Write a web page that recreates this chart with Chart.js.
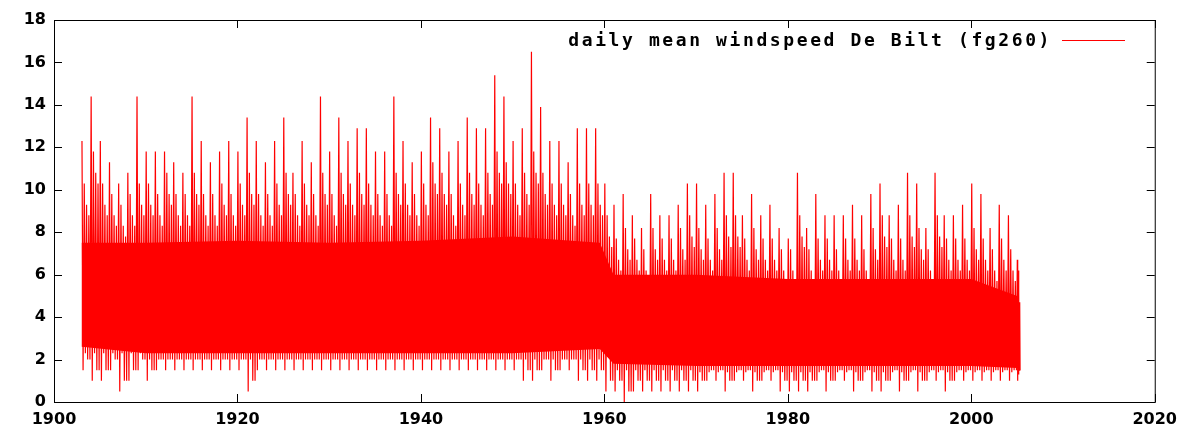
<!DOCTYPE html>
<html>
<head>
<meta charset="utf-8">
<script src="https://cdn.jsdelivr.net/npm/chart.js@4"></script>
<style>
  body { margin: 0; background: #fff; }
  #wrap { width: 1185px; height: 437px; }
</style>
</head>
<body>
<div id="wrap"><canvas id="grafico" width="1185" height="437"></canvas></div>
<script>
// años con datos diarios (De Bilt, fg260)
const anios = [];
for (let a = 1903; a <= 2005; a++) anios.push(a);

// pico máximo de cada año (m/s)
const picos = [12.3,14.4,12.3,11.3,10.3,10.8,14.4,11.8,11.8,11.8,11.3,10.8,14.4,12.3,11.3,11.8,12.3,11.8,13.4,12.3,
  11.3,12.3,13.4,10.8,12.3,11.3,14.4,11.8,13.4,12.3,12.9,12.9,11.8,11.8,14.4,12.3,11.3,11.8,13.4,12.9,
  11.8,12.3,13.4,12.9,12.9,15.4,14.4,12.3,12.9,16.5,13.9,12.3,12.3,11.3,12.9,12.9,12.9,10.3,9.3,9.8,
  8.8,8.2,9.8,8.8,8.8,9.3,10.3,10.3,9.3,9.8,10.8,10.8,8.8,9.8,8.8,9.3,8.2,7.7,10.8,8.2,
  9.8,8.8,8.8,8.8,9.3,8.8,9.8,10.3,8.8,9.3,10.8,10.3,8.2,10.8,8.8,8.8,9.3,10.3,9.8,8.2,9.3,8.8,6.7];
// segundo pico de cada año
const picos2 = [10.3,11.8,10.3,9.8,9.3,9.8,10.3,10.3,9.8,10.8,9.8,9.8,10.8,9.8,9.8,10.3,9.8,10.3,10.8,9.8,
  9.8,10.3,10.8,9.8,10.3,9.8,10.8,9.8,10.8,10.3,10.8,10.3,9.8,9.8,10.8,10.3,9.8,10.3,11.3,10.8,
  9.8,10.3,10.8,10.3,10.8,11.8,11.3,10.3,10.8,11.8,10.8,10.3,10.3,9.8,10.3,10.3,10.3,8.8,7.7,8.2,
  7.7,7.2,8.2,7.7,7.7,8.2,8.8,8.2,7.7,8.2,8.8,8.8,7.7,8.2,7.7,7.7,7.2,7.2,8.8,7.2,
  7.7,7.7,7.2,7.7,7.7,7.2,8.2,8.8,7.7,7.7,8.8,8.2,7.2,8.8,7.7,7.7,7.7,8.2,7.7,7.2,7.7,7.2,6.2];
// mínimo de cada año
const minimos = [1.5,1.0,1.0,1.5,0.5,1.0,1.5,1.0,1.5,1.5,1.5,1.5,1.5,1.5,1.5,1.5,1.5,1.5,0.5,1.5,
  1.5,1.5,1.5,1.5,1.5,1.5,1.5,1.5,1.5,1.5,1.5,1.5,1.5,1.5,1.5,1.5,1.5,1.5,1.5,1.5,
  1.5,1.5,1.5,1.5,1.5,1.5,1.5,1.5,1.0,1.0,1.5,1.0,1.5,1.5,1.0,1.0,1.0,0.5,0.5,0.0,
  0.5,0.5,0.5,0.5,0.5,0.5,0.5,0.5,1.0,1.0,0.5,1.0,1.0,0.5,1.0,1.0,0.5,0.5,0.5,0.5,
  1.0,0.5,1.0,1.0,0.5,1.0,0.5,0.5,1.0,0.5,1.0,0.5,1.0,1.0,0.5,1.0,1.0,1.0,1.0,1.0,1.0,1.0,1.0];
// banda sólida (núcleo)
const nucleoAnios = [1903,1910,1920,1930,1940,1950,1959.5,1961,1970,1980,1990,2000,2005];
const nucleoAlto  = [7.5,7.5,7.6,7.5,7.6,7.8,7.5,6.0,6.0,5.8,5.8,5.8,5.0];
const nucleoBajo  = [2.6,2.3,2.3,2.3,2.3,2.3,2.5,1.8,1.7,1.7,1.7,1.7,1.6];

const etiqueta = 'daily mean windspeed De Bilt (fg260)';
const rojo = '#ff0000';

function nucleoBajoEn(a) {
  let k = 0;
  while (k < nucleoAnios.length - 1 && nucleoAnios[k + 1] <= a) k++;
  return nucleoBajo[k];
}

// serie en zig-zag entre picos y mínimos
const serie = [];
anios.forEach((a, i) => {
  const f = a === 2005 ? 0.35 : 1;
  serie.push({ x: a + 0.05 * f, y: picos[i] });
  serie.push({ x: a + 0.17 * f, y: minimos[i] });
  serie.push({ x: a + 0.3 * f, y: picos2[i] });
  serie.push({ x: a + 0.42 * f, y: nucleoBajoEn(a) - 0.3 });
  serie.push({ x: a + 0.55 * f, y: picos2[i] - 1 });
  serie.push({ x: a + 0.67 * f, y: minimos[i] + 0.5 });
  serie.push({ x: a + 0.8 * f, y: picos2[i] - 1.5 });
  serie.push({ x: a + 0.92 * f, y: minimos[i] + 0.5 });
});

const fuente = { family: 'DejaVu Sans', size: 16, weight: 'bold' };

const marco = {
  id: 'marco',
  afterDraw(chart) {
    const { ctx, chartArea: ca, scales } = chart;
    ctx.save();
    ctx.strokeStyle = '#000';
    ctx.lineWidth = 1;
    ctx.strokeRect(ca.left + 0.5, ca.top + 0.5, ca.width, ca.height);
    ctx.beginPath();
    for (let v = 1900; v <= 2020; v += 20) {
      const x = Math.round(scales.x.getPixelForValue(v)) + 0.5;
      ctx.moveTo(x, ca.bottom); ctx.lineTo(x, ca.bottom - 8);
      ctx.moveTo(x, ca.top); ctx.lineTo(x, ca.top + 8);
    }
    for (let v = 0; v <= 18; v += 2) {
      const y = Math.round(scales.y.getPixelForValue(v)) + 0.5;
      ctx.moveTo(ca.left, y); ctx.lineTo(ca.left + 8, y);
      ctx.moveTo(ca.right, y); ctx.lineTo(ca.right - 8, y);
    }
    ctx.stroke();
    // leyenda
    ctx.font = 'bold 18px "DejaVu Sans Mono"';
    ctx.letterSpacing = '2.6px';
    ctx.fillStyle = '#000';
    ctx.textAlign = 'right';
    ctx.textBaseline = 'middle';
    ctx.fillText(etiqueta, 1052, 41);
    ctx.strokeStyle = rojo;
    ctx.beginPath();
    ctx.moveTo(1062, 40.5); ctx.lineTo(1125, 40.5);
    ctx.stroke();
    ctx.restore();
  }
};

new Chart(document.getElementById('grafico'), {
  type: 'line',
  data: {
    datasets: [
      { label: 'alto', data: nucleoAnios.map((a, i) => ({ x: a, y: nucleoAlto[i] })),
        borderWidth: 0, pointRadius: 0, fill: '+1', backgroundColor: rojo, borderColor: rojo },
      { label: 'bajo', data: nucleoAnios.map((a, i) => ({ x: a, y: nucleoBajo[i] })),
        borderWidth: 0, pointRadius: 0, fill: false, borderColor: rojo },
      { label: etiqueta, data: serie, borderColor: rojo, borderWidth: 1.2,
        pointRadius: 0, tension: 0, fill: false }
    ]
  },
  options: {
    responsive: false,
    animation: false,
    layout: { padding: { top: 20, right: 27, left: 0, bottom: 0 } },
    plugins: { legend: { display: false }, tooltip: { enabled: false } },
    scales: {
      x: {
        type: 'linear', min: 1900, max: 2020,
        grid: { display: false, drawTicks: false },
        border: { display: false },
        ticks: { stepSize: 20, color: '#000', font: fuente, padding: 8, maxRotation: 0,
                 callback: v => String(v) },
        afterFit: s => { s.height = 35; }
      },
      y: {
        min: 0, max: 18,
        grid: { display: false, drawTicks: false },
        border: { display: false },
        ticks: { stepSize: 2, color: '#000', font: fuente, padding: 8 },
        afterFit: s => { s.width = 54; }
      }
    }
  },
  plugins: [marco]
});
</script>
</body>
</html>
